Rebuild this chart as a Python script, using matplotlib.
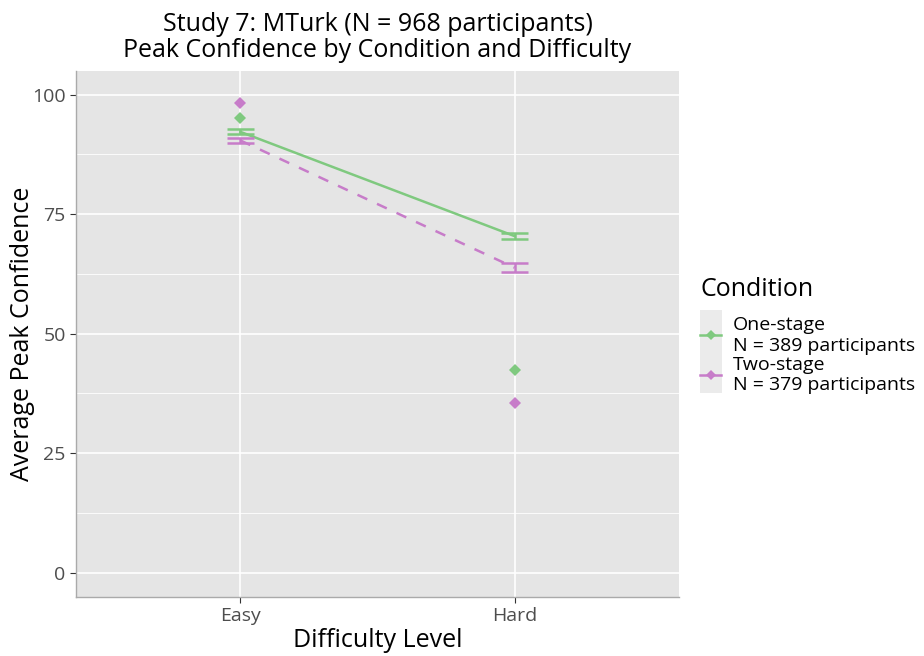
import matplotlib
matplotlib.use("Agg")
import matplotlib.pyplot as plt
from matplotlib.lines import Line2D
from matplotlib.patches import Rectangle

plt.rcParams['font.family'] = ['Open Sans', 'DejaVu Sans']

difficulty = ["Easy", "Hard"]
conditions = ["One-stage", "Two-stage"]
legend_labels = ["One-stage\nN = 389 participants", "Two-stage\nN = 379 participants"]
mean_conf = {"One-stage": [92.2, 70.4], "Two-stage": [90.4, 63.8]}
err_low = {"One-stage": [91.7, 69.7], "Two-stage": [89.9, 62.8]}
err_high = {"One-stage": [92.8, 71.1], "Two-stage": [91.0, 64.8]}
point_vals = {"One-stage": [95.1, 42.4], "Two-stage": [98.2, 35.4]}
colors = {"One-stage": "#7FC97F", "Two-stage": "#C77CC9"}
styles = {"One-stage": "-", "Two-stage": (0, (4.3, 4.3))}
yticks = [0, 25, 50, 75, 100]

fig = plt.figure(figsize=(9.24, 6.56), dpi=100)
ax = fig.add_axes([0.0823, 0.0907, 0.6525, 0.8015])
ax.set_facecolor("#E5E5E5")
xpos = [1, 2]
LW = 1.8
for c in conditions:
    col = colors[c]
    ax.plot(xpos, mean_conf[c], color=col, lw=LW, linestyle=styles[c], zorder=3)
    for i, x in enumerate(xpos):
        lo, hi = err_low[c][i], err_high[c][i]
        ax.plot([x, x], [lo, hi], color=col, lw=LW, zorder=3, solid_capstyle='butt')
        ax.plot([x - 0.05, x + 0.05], [lo, lo], color=col, lw=LW, zorder=3, solid_capstyle='butt')
        ax.plot([x - 0.05, x + 0.05], [hi, hi], color=col, lw=LW, zorder=3, solid_capstyle='butt')
    ax.plot(xpos, point_vals[c], linestyle='none', marker='D', markersize=6.5,
            color=col, markeredgewidth=0, zorder=4)

ax.set_xlim(0.4, 2.6)
ax.set_ylim(-5, 105)
ax.set_xticks(xpos)
ax.set_xticklabels(difficulty)
ax.set_yticks(yticks)
ax.set_yticks([12.5, 37.5, 62.5, 87.5], minor=True)
ax.grid(True, which='major', color='white', lw=1.2)
ax.grid(True, which='minor', axis='y', color='white', lw=0.6)
ax.set_axisbelow(True)
for s in ["top", "right"]:
    ax.spines[s].set_visible(False)
for s in ["left", "bottom"]:
    ax.spines[s].set_color("#AAAAAA")
    ax.spines[s].set_linewidth(1.0)
ax.tick_params(axis='both', which='major', labelsize=14, colors="#333333", length=4, width=0.8, labelcolor="#4D4D4D")
ax.tick_params(axis='both', which='minor', length=0)
ax.set_xlabel("Difficulty Level", fontsize=18, labelpad=2)
ax.set_ylabel("Average Peak Confidence", fontsize=18)
ax.yaxis.set_label_coords((35 - 76) / 603, 0.5)
ax.set_title("Study 7: MTurk (N = 968 participants)\nPeak Confidence by Condition and Difficulty",
             fontsize=18, pad=10, linespacing=1.05)

# grey background behind legend keys
fig.patches.append(Rectangle((700 / 924, 1 - 393 / 656), 22 / 924, 83 / 656,
                             transform=fig.transFigure, facecolor="#EBEBEB",
                             edgecolor='none', zorder=0))

handles = [Line2D([0], [0], color=colors[c], lw=LW, marker='D', markersize=5.5,
                  markeredgewidth=0, linestyle='-') for c in conditions]
leg = fig.legend(handles, legend_labels, loc='upper left', bbox_to_anchor=(700 / 924, 1 - 277 / 656),
                 title="Condition", fontsize=14, title_fontsize=18, frameon=False,
                 handlelength=1.1, handletextpad=0.6, labelspacing=0.05, borderaxespad=0,
                 borderpad=0)
leg._legend_box.align = "left"
leg._legend_box.sep = 10

fig.savefig("out.png", dpi=100)
